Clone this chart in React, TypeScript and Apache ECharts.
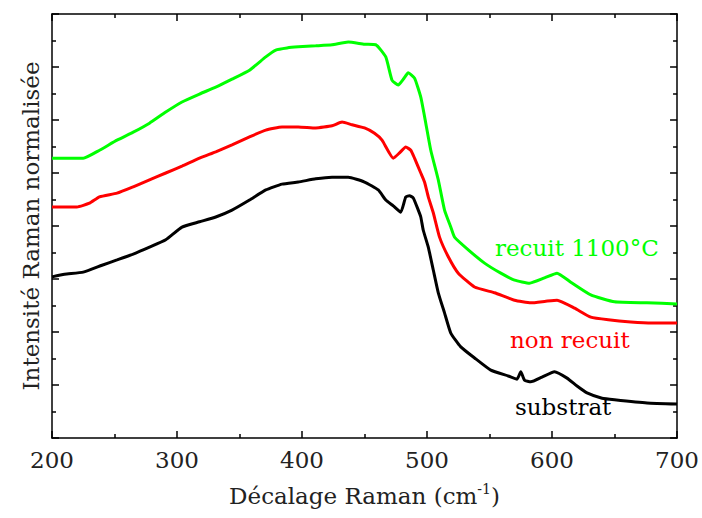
import React, { useEffect, useRef } from "react";
import * as echarts from "echarts";

const substratX = [200,210,225,240,252,265,278,291,304,318,331,344,358,371,384,397,411,424,437,450,461,467,473,479,483,486,489,493,495,497,501,505,509,514,519,527,538,551,565,572,575,578,583,592,602,612,620,628,640,650,676,700];
const substratY = [3.04,3.09,3.13,3.26,3.36,3.47,3.60,3.74,3.98,4.08,4.17,4.30,4.49,4.68,4.79,4.83,4.89,4.92,4.92,4.83,4.68,4.49,4.38,4.26,4.55,4.57,4.53,4.30,4.17,3.92,3.60,3.17,2.74,2.36,1.98,1.72,1.51,1.28,1.17,1.11,1.25,1.09,1.06,1.15,1.25,1.13,0.98,0.85,0.75,0.72,0.66,0.64];

const nonRecuitX = [200,220,230,238,252,265,278,291,304,318,331,344,358,371,384,397,411,424,432,440,450,458,464,473,478,483,487,490,495,498,501,505,510,517,525,538,554,570,583,595,604,618,631,645,663,680,700];
const nonRecuitY = [4.36,4.36,4.43,4.55,4.62,4.74,4.87,5.00,5.13,5.28,5.40,5.53,5.68,5.81,5.87,5.87,5.85,5.89,5.96,5.91,5.85,5.75,5.62,5.28,5.38,5.49,5.43,5.28,5.00,4.83,4.55,4.25,3.79,3.42,3.11,2.85,2.74,2.60,2.55,2.58,2.60,2.45,2.28,2.23,2.19,2.17,2.17];

const recuitX = [200,225,238,252,265,278,291,304,318,331,344,358,371,379,388,397,411,424,437,450,459,467,472,477,481,485,490,495,499,503,509,514,519,522,533,546,559,570,582,594,604,615,631,650,676,700];
const recuitY = [5.28,5.28,5.43,5.62,5.77,5.94,6.15,6.34,6.49,6.62,6.77,6.94,7.19,7.32,7.36,7.38,7.40,7.42,7.47,7.43,7.42,7.19,6.75,6.66,6.77,6.89,6.79,6.43,5.94,5.43,4.87,4.30,3.98,3.79,3.55,3.30,3.11,2.98,2.92,3.02,3.11,2.94,2.70,2.57,2.55,2.53];

const xTicks = [200, 300, 400, 500, 600, 700];

const FONT = "DejaVu Serif";
const FS = 23;

function pairs(xs: number[], ys: number[]) {
  return xs.map((x, i) => [x, ys[i]]);
}

export default function App() {
  const ref = useRef<HTMLDivElement>(null);
  useEffect(() => {
    document.body.style.margin = "0";
    const chart = echarts.init(ref.current!, null, { renderer: "svg" });
    const axisLine = { show: true, onZero: false, lineStyle: { color: "#000", width: 1.5 } };
    const tickStyle = { color: "#000", width: 1.5 };
    const xBase = {
      type: "value" as const,
      min: 200,
      max: 700,
      interval: 100,
      axisLine,
      axisTick: { show: true, inside: true, length: 7, lineStyle: tickStyle },
      minorTick: { show: true, splitNumber: 2, length: 4, lineStyle: tickStyle },
      splitLine: { show: false },
    };
    const yBase = {
      type: "value" as const,
      min: 0,
      max: 8,
      interval: 1,
      axisLine,
      axisTick: { show: true, inside: true, length: 7, lineStyle: tickStyle },
      minorTick: { show: true, splitNumber: 2, length: 4, lineStyle: tickStyle },
      splitLine: { show: false },
      axisLabel: { show: false },
    };
    const line = (name: string, xs: number[], ys: number[], color: string) => ({
      name,
      type: "line",
      data: pairs(xs, ys),
      showSymbol: false,
      symbol: "none",
      smooth: 0.15,
      lineStyle: { color, width: 3 },
      xAxisIndex: 0,
      yAxisIndex: 0,
    });
    const txt = (text: string, left: number, top: number, fill: string) => ({
      type: "text",
      left,
      top,
      style: { text, fill, fontFamily: FONT, fontSize: FS },
    });
    chart.setOption({
      animation: false,
      textStyle: { fontFamily: FONT },
      grid: { left: 52, right: 22, top: 14, bottom: 80, containLabel: false },
      xAxis: [
        {
          ...xBase,
          position: "bottom",
          axisLabel: {
            show: true,
            color: "#222",
            fontFamily: FONT,
            fontSize: FS,
            margin: 10,
            formatter: (v: number) => (xTicks.includes(v) ? String(v) : ""),
          },
          name: "Décalage Raman (cm{sup|-1})",
          nameLocation: "middle",
          nameGap: 44,
          nameTextStyle: {
            color: "#222",
            fontFamily: FONT,
            fontSize: FS,
            rich: {
              sup: { fontFamily: FONT, fontSize: 14, verticalAlign: "top", padding: [0, 0, 14, 0], color: "#222" },
            },
          },
        },
        { ...xBase, position: "top", axisLabel: { show: false } },
      ],
      yAxis: [
        {
          ...yBase,
          position: "left",
          name: "Intensité Raman normalisée",
          nameLocation: "middle",
          nameGap: 10,
          nameTextStyle: { color: "#222", fontFamily: FONT, fontSize: FS },
        },
        { ...yBase, position: "right" },
      ],
      series: [
        line("substrat", substratX, substratY, "#000000"),
        line("non recuit", nonRecuitX, nonRecuitY, "#ff0000"),
        line("recuit 1100°C", recuitX, recuitY, "#00ff00"),
      ],
      graphic: [
        txt("recuit 1100°C", 495, 236, "#00ff00"),
        txt("non recuit", 510, 328, "#ff0000"),
        txt("substrat", 515, 395, "#000000"),
      ],
    });
    return () => chart.dispose();
  }, []);
  return <div ref={ref} style={{ width: 702, height: 518 }} />;
}
